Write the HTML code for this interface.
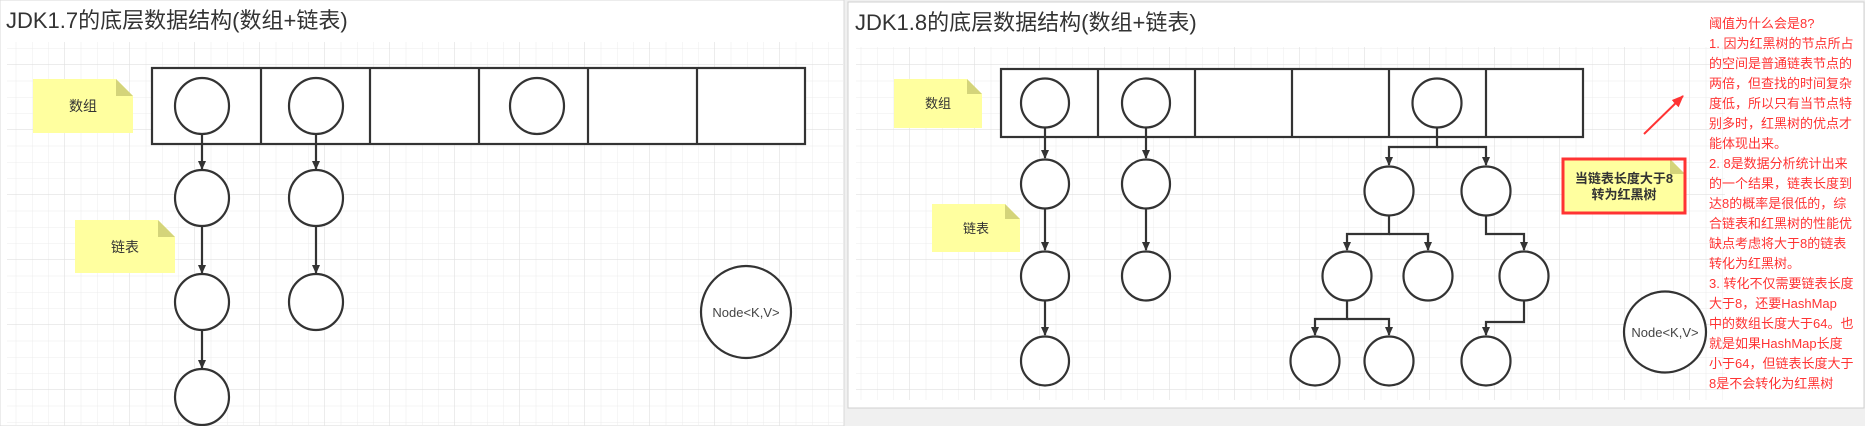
<!DOCTYPE html>
<html><head><meta charset="utf-8"><style>
html,body{margin:0;padding:0;background:#f0f0f0;}
svg{display:block;}
text{font-family:"Liberation Sans","Noto Sans CJK SC",sans-serif;}
</style></head><body>
<svg width="1865" height="426" viewBox="0 0 1865 426" xmlns="http://www.w3.org/2000/svg">
<defs>
<pattern id="g" width="16.25" height="16.25" patternUnits="userSpaceOnUse">
<path d="M16.25 0V16.25H0" fill="none" stroke="#ececec" stroke-width="1"/>
</pattern>
<pattern id="G" width="65" height="65" patternUnits="userSpaceOnUse">
<rect width="65" height="65" fill="url(#g)"/>
<path d="M65 0V65H0" fill="none" stroke="#e0e0e0" stroke-width="1.2"/>
</pattern>
<marker id="a" markerWidth="10" markerHeight="10" refX="8" refY="5" orient="auto" markerUnits="userSpaceOnUse">
<path d="M0,1 L9,5 L0,9 Z" fill="#333"/>
</marker>
<marker id="r" markerWidth="14" markerHeight="12" refX="11" refY="6" orient="auto" markerUnits="userSpaceOnUse">
<path d="M0,1 L12,6 L0,11 Z" fill="#f33"/>
</marker>
</defs>
<rect x="0" y="0" width="844" height="426" fill="#fff" stroke="#d8d8d8"/>
<rect x="7" y="42" width="836" height="384" fill="url(#G)"/>
<text x="6" y="28" font-size="22" fill="#333">JDK1.7的底层数据结构(数组+链表)</text>
<rect x="848" y="2" width="1016" height="406" fill="#fff" stroke="#d0d0d0"/>
<rect x="856" y="47" width="869" height="353" fill="url(#G)"/>
<text x="855" y="30" font-size="22" fill="#333">JDK1.8的底层数据结构(数组+链表)</text>

<g fill="none" stroke="#333" stroke-width="2.2">
<rect x="152" y="68" width="653" height="76" fill="#fff"/>
<path d="M261 68V144M370 68V144M479 68V144M588 68V144M697 68V144"/>
<g fill="#fff">
<ellipse cx="202" cy="106" rx="27" ry="28"/>
<ellipse cx="316" cy="106" rx="27" ry="28"/>
<ellipse cx="537" cy="106" rx="27" ry="28"/>
<ellipse cx="202" cy="198" rx="27" ry="28"/>
<ellipse cx="202" cy="302" rx="27" ry="28"/>
<ellipse cx="202" cy="397" rx="27" ry="28"/>
<ellipse cx="316" cy="198" rx="27" ry="28"/>
<ellipse cx="316" cy="302" rx="27" ry="28"/>
<ellipse cx="746" cy="312" rx="45" ry="46"/>
</g>
<g marker-end="url(#a)">
<path d="M202 134V169"/><path d="M202 226V273"/><path d="M202 330V368"/>
<path d="M316 134V169"/><path d="M316 226V273"/>
</g>

<rect x="1001" y="69" width="582" height="68" fill="#fff"/>
<path d="M1098 69V137M1195 69V137M1292 69V137M1389 69V137M1486 69V137"/>
<g fill="#fff">
<ellipse cx="1045" cy="103" rx="24" ry="24.5"/>
<ellipse cx="1146" cy="103" rx="24" ry="24.5"/>
<ellipse cx="1437" cy="103" rx="24.5" ry="24.5"/>
<ellipse cx="1045" cy="184" rx="24" ry="24.5"/>
<ellipse cx="1045" cy="276" rx="24" ry="24.5"/>
<ellipse cx="1045" cy="361" rx="24" ry="24.5"/>
<ellipse cx="1146" cy="184" rx="24" ry="24.5"/>
<ellipse cx="1146" cy="276" rx="24" ry="24.5"/>
<ellipse cx="1389" cy="191" rx="24.5" ry="24.5"/>
<ellipse cx="1486" cy="191" rx="24.5" ry="24.5"/>
<ellipse cx="1347" cy="276" rx="24.5" ry="24.5"/>
<ellipse cx="1428" cy="276" rx="24.5" ry="24.5"/>
<ellipse cx="1524" cy="276" rx="24.5" ry="24.5"/>
<ellipse cx="1315" cy="361" rx="24.5" ry="24.5"/>
<ellipse cx="1389" cy="361" rx="24.5" ry="24.5"/>
<ellipse cx="1486" cy="361" rx="24.5" ry="24.5"/>
<ellipse cx="1665" cy="332" rx="41" ry="40.5"/>
</g>
<g marker-end="url(#a)">
<path d="M1045 128V158"/><path d="M1045 209V250"/><path d="M1045 301V335"/>
<path d="M1146 128V158"/><path d="M1146 209V250"/>
<path d="M1437 128V147H1389V165"/><path d="M1437 147H1486V165"/>
<path d="M1389 216V234H1347V250"/><path d="M1389 234H1428V250"/>
<path d="M1486 216V234H1524V250"/>
<path d="M1347 301V319H1315V335"/><path d="M1347 319H1389V335"/>
<path d="M1524 301V322H1486V335"/>
</g>
</g>
<text x="746" y="317" font-size="13" fill="#444" text-anchor="middle">Node&lt;K,V&gt;</text>
<text x="1665" y="337" font-size="13" fill="#444" text-anchor="middle">Node&lt;K,V&gt;</text>

<g>
<path d="M33 79H116L133 96V133H33Z" fill="#ffff9f"/><path d="M116 79L133 96H116Z" fill="#d4d47a"/>
<text x="83" y="111" font-size="14" fill="#333" text-anchor="middle">数组</text>
<path d="M75 220H158L175 237V273H75Z" fill="#ffff9f"/><path d="M158 220L175 237H158Z" fill="#d4d47a"/>
<text x="125" y="252" font-size="14" fill="#333" text-anchor="middle">链表</text>
<path d="M894 79H967L982 94V128H894Z" fill="#ffff9f"/><path d="M967 79L982 94H967Z" fill="#d4d47a"/>
<text x="938" y="108" font-size="13" fill="#333" text-anchor="middle">数组</text>
<path d="M932 204H1005L1020 219V252H932Z" fill="#ffff9f"/><path d="M1005 204L1020 219H1005Z" fill="#d4d47a"/>
<text x="976" y="233" font-size="13" fill="#333" text-anchor="middle">链表</text>
<path d="M1563 159H1670L1685 174V213H1563Z" fill="#ffff9f"/><path d="M1670 159L1685 174H1670Z" fill="#d4d47a"/>
<rect x="1563" y="159" width="122" height="54" fill="none" stroke="#f33" stroke-width="3"/>
<text x="1624" y="183" font-size="13" font-weight="bold" fill="#333" text-anchor="middle">当链表长度大于8</text>
<text x="1624" y="199" font-size="13" font-weight="bold" fill="#333" text-anchor="middle">转为红黑树</text>
</g>
<line x1="1644" y1="134" x2="1683" y2="96" stroke="#f33" stroke-width="2" marker-end="url(#r)"/>

<g font-size="13" fill="#f33">
<text x="1709" y="28">阈值为什么会是8?</text>
<text x="1709" y="48">1. 因为红黑树的节点所占</text>
<text x="1709" y="68">的空间是普通链表节点的</text>
<text x="1709" y="88">两倍，但查找的时间复杂</text>
<text x="1709" y="108">度低，所以只有当节点特</text>
<text x="1709" y="128">别多时，红黑树的优点才</text>
<text x="1709" y="148">能体现出来。</text>
<text x="1709" y="168">2. 8是数据分析统计出来</text>
<text x="1709" y="188">的一个结果，链表长度到</text>
<text x="1709" y="208">达8的概率是很低的，综</text>
<text x="1709" y="228">合链表和红黑树的性能优</text>
<text x="1709" y="248">缺点考虑将大于8的链表</text>
<text x="1709" y="268">转化为红黑树。</text>
<text x="1709" y="288">3. 转化不仅需要链表长度</text>
<text x="1709" y="308">大于8，还要HashMap</text>
<text x="1709" y="328">中的数组长度大于64。也</text>
<text x="1709" y="348">就是如果HashMap长度</text>
<text x="1709" y="368">小于64，但链表长度大于</text>
<text x="1709" y="388">8是不会转化为红黑树</text>
</g>
</svg>
</body></html>
